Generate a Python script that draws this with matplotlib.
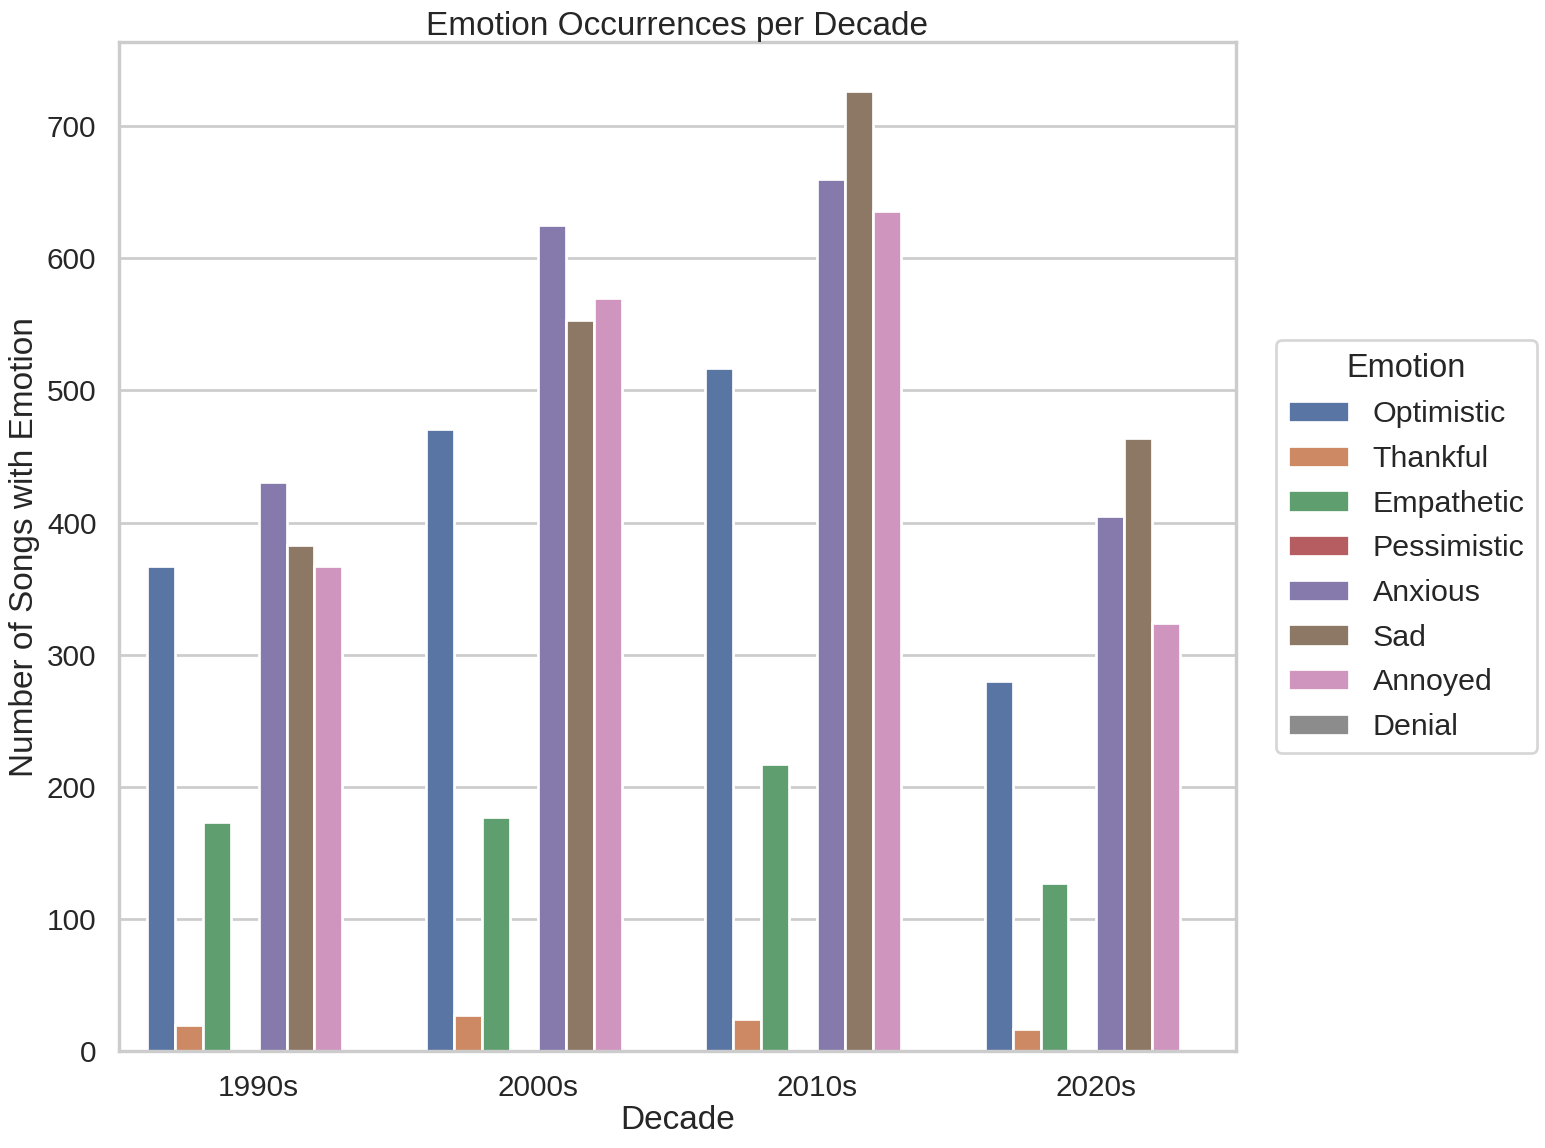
import matplotlib
matplotlib.use("Agg")
import matplotlib.pyplot as plt
import seaborn as sns
import pandas as pd

decades = ["1990s", "2000s", "2010s", "2020s"]
emotions = ["Optimistic", "Thankful", "Empathetic", "Pessimistic", "Anxious", "Sad", "Annoyed", "Denial"]
optimistic = [367, 471, 517, 280]
thankful = [20, 27, 24, 17]
empathetic = [173, 177, 217, 127]
pessimistic = [0, 0, 0, 0]
anxious = [431, 625, 660, 405]
sad = [383, 553, 727, 464]
annoyed = [367, 570, 636, 324]
denial = [0, 0, 0, 0]

series = [optimistic, thankful, empathetic, pessimistic, anxious, sad, annoyed, denial]
rows = []
for emo, vals in zip(emotions, series):
    for d, v in zip(decades, vals):
        rows.append({"Decade": d, "Emotion": emo, "Count": v})
df = pd.DataFrame(rows)

sns.set_theme(style="whitegrid", context="talk")
plt.rcParams["font.family"] = ["Liberation Sans", "DejaVu Sans"]
DPI = 130
fig = plt.figure(figsize=(1545 / DPI, 1148 / DPI), dpi=DPI)
ax = fig.add_axes([0.077, 0.0845, 0.723, 0.8785])
sns.barplot(data=df, x="Decade", y="Count", hue="Emotion", hue_order=emotions,
            order=decades, ax=ax, palette="deep")
ax.set_title("Emotion Occurrences per Decade", pad=4, fontsize=18.5)
ax.set_xlabel("Decade", labelpad=2, fontsize=18.5)
ax.set_ylabel("Number of Songs with Emotion", fontsize=18.5)
leg = ax.legend(title="Emotion", loc="center left", bbox_to_anchor=(1.022, 0.5),
                fontsize=16.8, title_fontsize=18, labelspacing=0.55)
fig.savefig("out.png", dpi=DPI)
